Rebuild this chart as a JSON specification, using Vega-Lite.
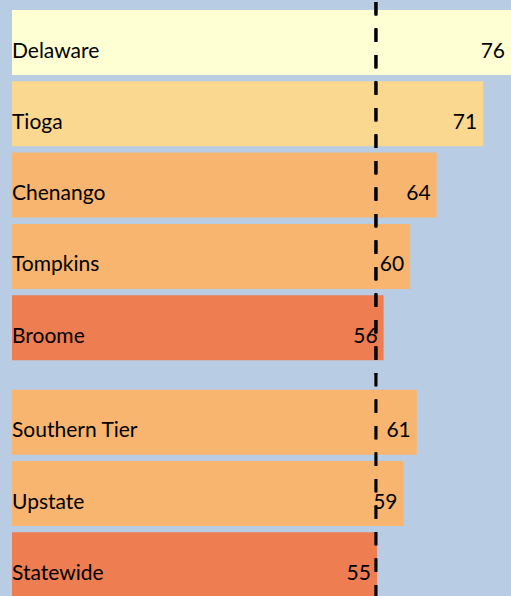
{
  "$schema": "https://vega.github.io/schema/vega-lite/v6.json",
  "padding": {"left": 12, "top": 0, "right": 0, "bottom": 0},
  "background": "#B8CCE4",
  "spacing": 0,
  "bounds": "flush",
  "config": {"view": {"stroke": null}, "text": {"font": "Lato", "fontSize": 21, "color": "#000000"}},
  "data": {
    "values": [
      {"name": "Delaware", "group": "County", "value": 76},
      {"name": "Tioga", "group": "County", "value": 71},
      {"name": "Chenango", "group": "County", "value": 64},
      {"name": "Tompkins", "group": "County", "value": 60},
      {"name": "Broome", "group": "County", "value": 56},
      {"name": "Southern Tier", "group": "Region", "value": 61},
      {"name": "Upstate", "group": "Region", "value": 59},
      {"name": "Statewide", "group": "Region", "value": 55}
    ]
  },
  "vconcat": [
    {
      "width": 499,
      "height": 373,
      "transform": [{"filter": "datum.group === 'County'"}],
      "encoding": {
        "x": {"field": "value", "type": "quantitative", "scale": {"domain": [0, 75.2], "clamp": true, "nice": false, "zero": true}, "axis": null},
        "y": {"field": "name", "type": "nominal", "sort": null, "axis": null,
              "scale": {"type": "band", "paddingInner": 0.088, "paddingOuter": 0.1597, "align": 0.351}}
      },
      "layer": [
        {"mark": {"type": "bar"},
         "encoding": {"color": {"field": "value", "type": "quantitative", "legend": null,
           "scale": {"type": "threshold", "domain": [57, 65, 73], "range": ["#EE7D52", "#F7B570", "#FAD890", "#FFFFD4"]}}}},
        {"mark": {"type": "text", "align": "left", "baseline": "alphabetic", "dy": 15},
         "encoding": {"x": {"datum": 0}, "text": {"field": "name"}}},
        {"mark": {"type": "text", "align": "right", "baseline": "alphabetic", "dy": 15, "dx": -6},
         "encoding": {"text": {"field": "value"}}},
        {"mark": {"type": "rule", "color": "#000000", "strokeWidth": 2.5, "strokeDash": [13.3, 13.2]},
         "encoding": {"x": {"datum": 54.85}, "y": null}}
      ]
    },
    {
      "width": 499,
      "height": 223,
      "transform": [{"filter": "datum.group === 'Region'"}],
      "encoding": {
        "x": {"field": "value", "type": "quantitative", "scale": {"domain": [0, 75.2], "clamp": true, "nice": false, "zero": true}, "axis": null},
        "y": {"field": "name", "type": "nominal", "sort": null, "axis": null,
              "scale": {"type": "band", "paddingInner": 0.088, "paddingOuter": 0.108, "align": 0.955}}
      },
      "layer": [
        {"mark": {"type": "bar"},
         "encoding": {"color": {"field": "value", "type": "quantitative", "legend": null,
           "scale": {"type": "threshold", "domain": [57, 65, 73], "range": ["#EE7D52", "#F7B570", "#FAD890", "#FFFFD4"]}}}},
        {"mark": {"type": "text", "align": "left", "baseline": "alphabetic", "dy": 15},
         "encoding": {"x": {"datum": 0}, "text": {"field": "name"}}},
        {"mark": {"type": "text", "align": "right", "baseline": "alphabetic", "dy": 15, "dx": -6},
         "encoding": {"text": {"field": "value"}}},
        {"mark": {"type": "rule", "color": "#000000", "strokeWidth": 2.5, "strokeDash": [13.3, 13.2], "strokeDashOffset": 2},
         "encoding": {"x": {"datum": 54.85}, "y": null}}
      ]
    }
  ]
}
